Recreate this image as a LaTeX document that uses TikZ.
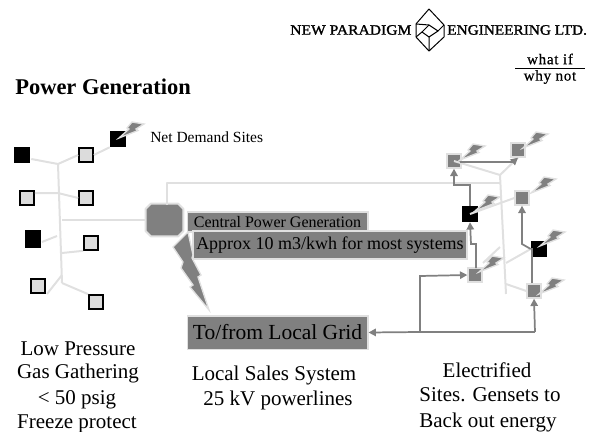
\documentclass[tikz,border=0pt]{standalone}
\usepackage{fontspec}
\setmainfont{Liberation Serif}
\usetikzlibrary{arrows.meta,calc}
\definecolor{midg}{HTML}{808080}
\definecolor{lineg}{HTML}{E0E0E0}
\definecolor{fillg}{HTML}{DCDCDC}
\newcommand{\fs}[1]{\fontsize{\dimexpr #1pt*3/4\relax}{\dimexpr #1pt\relax}\selectfont}
\tikzset{
  x=0.75pt,y=-0.75pt,
  pipe/.style={draw=lineg,line width=1.5pt,line join=round},
  blacksq/.style={fill=black,draw=none,inner sep=0pt,minimum width=12pt,minimum height=12pt},
  greysq/.style={fill=fillg,draw=black,line width=1.2pt,inner sep=0pt,minimum width=10.5pt,minimum height=10.5pt},
  site/.style={fill=midg,draw=lineg,line width=1.5pt,inner sep=0pt,minimum width=10pt,minimum height=10pt},
  flow/.style={draw=midg,line width=1.3pt,line join=miter,-{Triangle[length=5.5pt,width=5.5pt]}},
  flowplain/.style={draw=midg,line width=1.3pt},
  labelbox/.style={fill=midg,draw=lineg,line width=1pt,inner sep=0pt,text=black},
  boltshape/.style={fill=midg,draw=lineg,line width=1pt,line join=miter},
  pics/minibolt/.style={code={
    \path[boltshape] (0,0) -- (10,-9) -- (8,-10) -- (13,-16) -- (25,-14) -- (17,-9) -- (19,-7.5) -- cycle;
  }},
  plain/.style={inner sep=0pt,align=center,text=black},
}
\begin{document}
\begin{tikzpicture}
\useasboundingbox (0,0) rectangle (594,432);
% logo and title
\node[plain,anchor=west] (logoa) at (290,30) {\fs{14.3}\addfontfeature{FakeBold=1.5,FakeStretch=1.09}NEW PARADIGM};
\node[plain,anchor=west] (logob) at (447,30) {\fs{14.3}\addfontfeature{FakeBold=1.5,FakeStretch=1.07}ENGINEERING LTD.};
\draw[line width=.75pt,line join=round] (429,9) -- (444,25) -- (444,37) -- (429,51) -- (416,37) -- (416,24) -- cycle;
\draw[line width=.75pt,line join=round] (429,25) -- (438,31) -- (429,37) -- (422,32) -- cycle;
\draw[line width=.75pt] (416,24) -- (429,25) (438,31) -- (444,25) (429,37) -- (429,51) (422,32) -- (416,37);
\node[plain] (whatif) at (550,59) {\fs{15}\addfontfeature{FakeBold=0.6,LetterSpace=5}what if};
\node[plain] (whynot) at (550,77) {\fs{15}\addfontfeature{FakeBold=0.6,LetterSpace=5}why not};
\draw[line width=.7pt] (515,68) -- (585,68);
\node[plain,anchor=west] (title) at (15,87) {\fs{22.5}\bfseries Power Generation};
% left gathering field
\node[blacksq] (la) at (22,155) {};
\node[greysq] (lb) at (86,155) {};
\node[blacksq] (lc) at (118,139) {};
\node[greysq] (ld) at (27,198) {};
\node[greysq] (le) at (86,198) {};
\node[blacksq,minimum height=13.5pt] (lf) at (33,239) {};
\node[greysq] (lg) at (91,243) {};
\node[greysq] (lh) at (38,286) {};
\node[greysq] (li) at (96,302) {};
\coordinate (ja) at (58,164);
\coordinate (jb) at (58,193);
\coordinate (jc) at (62,220);
\coordinate (jd) at (57,236);
\coordinate (je) at (62,253);
\coordinate (jf) at (62,275);
\coordinate (jg) at (62,283);
\coordinate (jk) at (47,294);
\coordinate (jl) at (42,242);
\draw[pipe] (ja) -- (jg);
\draw[pipe] (la.east) ++(1,4) -- (ja) -- (lb.west);
\draw[pipe] (lb.east) -- (lc.south west);
\draw[pipe] (ld.east) ++(0,-5) -- (jb) -- (le.west);
\draw[pipe] (jl) -- (jd);
\draw[pipe] (je) -- (lg.south west);
\draw[pipe] (jf) -- (jk);
\draw[pipe] (jg) -- (li.north west);
% central plant
\node[inner sep=0pt,minimum width=27.75pt,minimum height=24pt] (plant) at (164.5,220) {};
\draw[fill=midg,draw=lineg,line width=1.5pt,line join=round]
  ($(plant.north west)+(5,0)$) -- ($(plant.north east)+(-5,0)$) -- ($(plant.north east)+(0,5)$) -- ($(plant.south east)+(0,-5)$) -- ($(plant.south east)+(-5,0)$)
  -- ($(plant.south west)+(5,0)$) -- ($(plant.south west)+(0,-5)$) -- ($(plant.north west)+(0,5)$) -- cycle;
\coordinate (kb) at (167,183);
\coordinate (rt) at (500,175);
\coordinate (rb) at (506,294);
\coordinate (rk) at (500,183);
\coordinate (kc) at (167,205);
\draw[pipe] (jc) -- (plant.west);
\draw[pipe] (kc) -- (kb) -- (rk);
\draw[pipe] (rt) -- (rb);
% right field
\node[site] (ra) at (454,161) {};
\node[site] (rc) at (518,150) {};
\node[site] (rd) at (522,198) {};
\node[blacksq] (re) at (470,214) {};
\node[blacksq] (rf) at (539,249) {};
\node[site] (rg) at (475,275) {};
\node[site] (rh) at (534,291) {};
\coordinate (ma) at (500,247);
\coordinate (mb) at (506,263);
\coordinate (mc) at (506,284);
\draw[pipe] (ra.center) -- (rt) -- (rc.south);
\draw[pipe] (re.center) -- (rd.west);
\draw[pipe] (ma) -- (483,263);
\draw[pipe] (mb) -- (rf.west);
\draw[pipe] (mc) -- (rh.west);
% grid flows
\coordinate (fa) at (470,185);
\coordinate (fb) at (454,185);
\coordinate (fc) at (513,162);
\coordinate (fd) at (476,244);
\coordinate (fe) at (471,244);
\coordinate (ff) at (522,244);
\coordinate (fg) at (420,276);
\coordinate (fh) at (420,332);
\coordinate (fi) at (535,332);
\draw[flow] (re.north) -- (fa) -- (fb) -- (ra.south);
\draw[flow] (ra.center) ++(6,1) -- (fc) -- (rc.south);
\draw[flow] (rg.center) ++(1,-7) -- (fd) -- (fe) -- (re.south);
\draw[flow] (rf.west) -- (ff) -- (rd.south);
\draw[flowplain] (rh.center) ++(-2,-8) -- (532,248);
\draw[flow] (fi) -- (rh.south);
\draw[flow] (fh) -- (fg) -- (rg.west);
% text boxes
\node[labelbox,minimum width=135.5pt,minimum height=15pt] (cpg) at (277.5,222) {\fs{16}Central Power Generation};
\node[labelbox,minimum width=205.5pt,minimum height=21pt] (apx) at (330,245) {\fs{18}Approx 10 m3/kwh for most systems};
\node[labelbox,minimum width=135.5pt,minimum height=25pt] (grid) at (277.5,332.5) {\fs{21.5}To/from Local Grid};
\draw[flow] (fh) -- (grid.east);
\draw[flowplain] (fh) -- (fi);
% big bolt
\path[boltshape] (188,232) -- (173,247) -- (183,262) -- (181,268) -- (193,285) -- (190,287) -- (209,310) -- (198,277) -- (201,275) -- (192,258) -- (193,255) -- cycle;
% small bolts
\pic at (119,138) {minibolt};
\pic at (460,160) {minibolt};
\pic at (523,148) {minibolt};
\pic at (531,193) {minibolt};
\pic at (475,211) {minibolt};
\pic at (540,246) {minibolt};
\pic at (479,272) {minibolt};
\pic at (539,294) {minibolt};
% labels
\node[plain,anchor=west] (netd) at (150,137) {\fs{15.5}Net Demand Sites};
\node[plain] (lowa) at (78,349) {\fs{21}Low Pressure};
\node[plain] (lowb) at (78,373) {\fs{21}Gas Gathering};
\node[plain] (lowc) at (77,400) {\fs{21}< 50 psig};
\node[plain] (lowd) at (77,424) {\fs{21}Freeze protect};
\node[plain] (sala) at (274,375) {\fs{21}Local Sales System};
\node[plain] (salb) at (278,400) {\fs{21}25 kV powerlines};
\node[plain] (ela) at (487,370) {\fs{21}Electrified};
\node[plain] (elb) at (490,395) {\fs{21}Sites. Gensets to};
\node[plain] (elc) at (488,422) {\fs{21}Back out energy};
\end{tikzpicture}
\end{document}
